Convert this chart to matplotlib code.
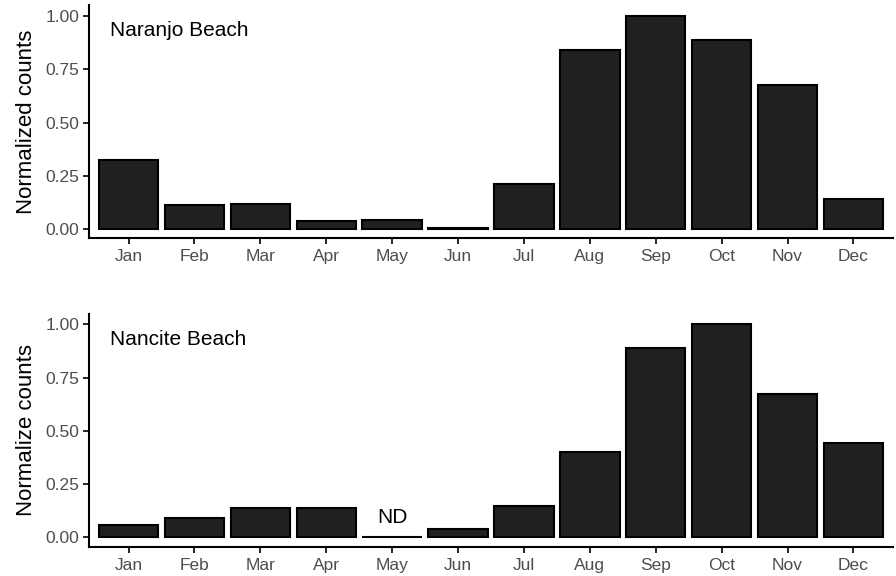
import matplotlib
matplotlib.use("Agg")
import matplotlib.pyplot as plt
import numpy as np

plt.rcParams['font.family'] = ['Liberation Sans', 'DejaVu Sans']

months = ["Jan", "Feb", "Mar", "Apr", "May", "Jun", "Jul", "Aug", "Sep", "Oct", "Nov", "Dec"]
naranjo = [0.325, 0.114, 0.119, 0.040, 0.045, 0.008, 0.211, 0.840, 1.000, 0.887, 0.677, 0.143]
nancite = [0.058, 0.092, 0.136, 0.136, 0.0, 0.040, 0.148, 0.402, 0.887, 1.000, 0.673, 0.444]
yticks = [0.0, 0.25, 0.5, 0.75, 1.0]
ytick_labels = ["0.00", "0.25", "0.50", "0.75", "1.00"]

fig = plt.figure(figsize=(8.96, 5.76), dpi=100)
ax1 = fig.add_axes([0.0993, 0.5868, 0.8974, 0.4040])
ax2 = fig.add_axes([0.0993, 0.0509, 0.8974, 0.4045])

x = np.arange(len(months))

def style(ax, values, title, ylabel, ylo):
    ax.bar(x, values, width=0.9, color="#202020", edgecolor="black", linewidth=1.5, zorder=2)
    ax.set_xlim(-0.6, len(months) - 0.4)
    ax.set_ylim(ylo, 1.05)
    ax.set_yticks(yticks)
    ax.set_yticklabels(ytick_labels)
    ax.set_xticks(x)
    ax.set_xticklabels(months)
    for s in ["top", "right"]:
        ax.spines[s].set_visible(False)
    for s in ["left", "bottom"]:
        ax.spines[s].set_linewidth(1.5)
    ax.tick_params(axis="both", length=4, width=1.2, colors="black", labelcolor="#4D4D4D", labelsize=12.5)
    ax.tick_params(axis="y", pad=3)
    ax.tick_params(axis="x", pad=4)
    ax.set_ylabel(ylabel, fontsize=16, labelpad=6)
    ax.text(-0.28, 0.93, title, fontsize=15, ha="left", va="center")

style(ax1, naranjo, "Naranjo Beach", "Normalized counts", -0.041)
style(ax2, nancite, "Nancite Beach", "Normalize counts", -0.044)
ax2.text(4, 0.095, "ND", fontsize=15, ha="center", va="center")

fig.savefig("out.png", dpi=100)
